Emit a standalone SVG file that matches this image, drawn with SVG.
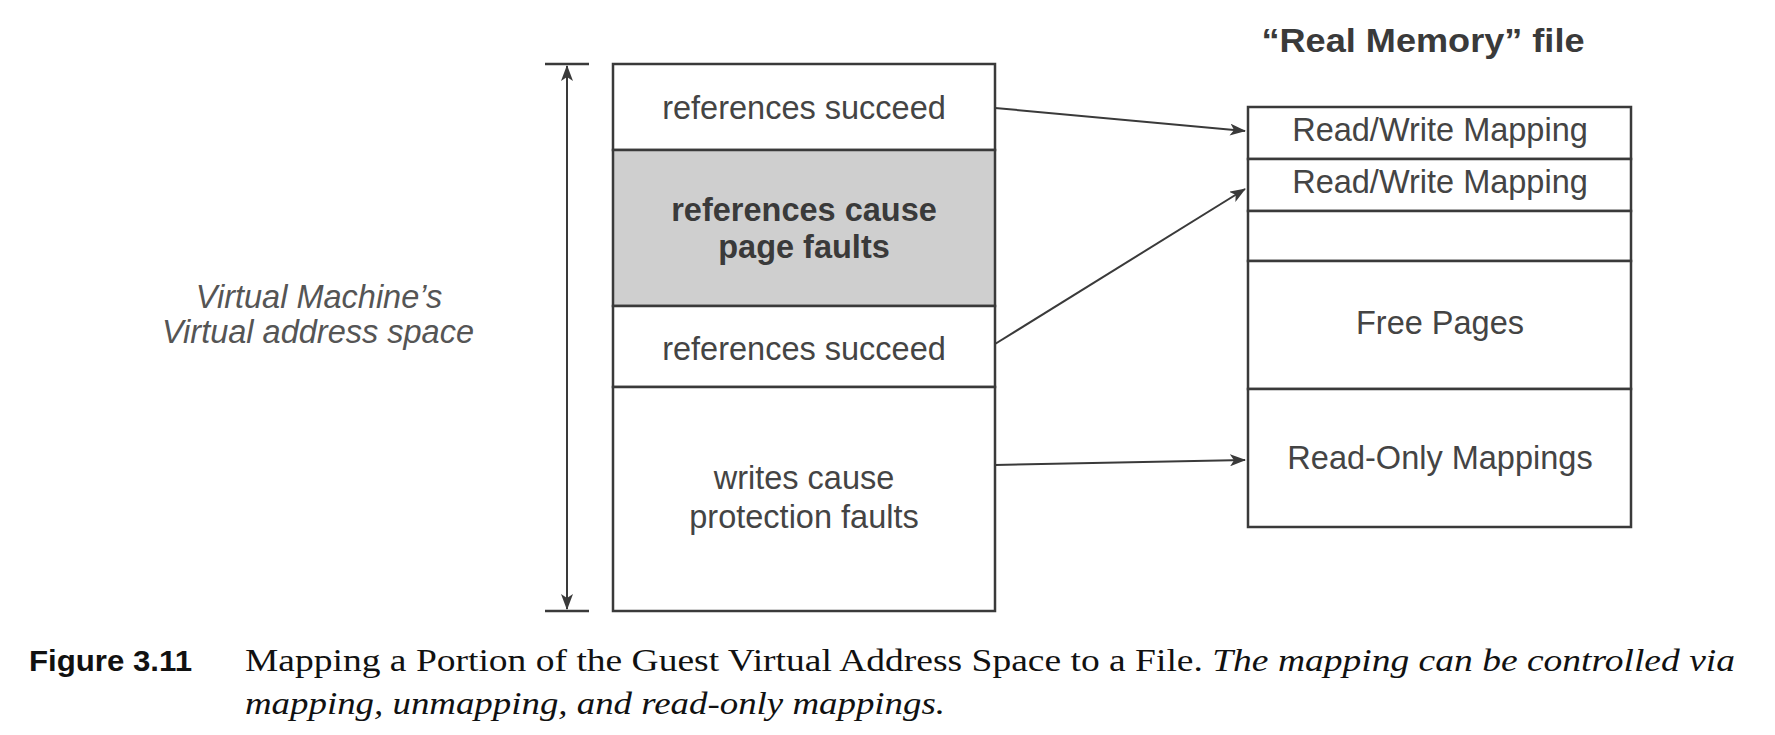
<svg xmlns="http://www.w3.org/2000/svg" width="1775" height="735" viewBox="0 0 1775 735">
<style>
.box{fill:#fff;stroke:#3a3a3a;stroke-width:2.5}
.gray{fill:#cfcfcf;stroke:#3a3a3a;stroke-width:2.5}
.t{font-family:"Liberation Sans",Arial,sans-serif;font-size:32.5px;fill:#444;text-anchor:middle}
.tb{font-family:"Liberation Sans",Arial,sans-serif;font-size:32.5px;font-weight:bold;fill:#3a3a3a;text-anchor:middle}
.ti{font-family:"Liberation Sans",Arial,sans-serif;font-size:32.5px;font-style:italic;fill:#555;text-anchor:middle}
.conn{stroke:#3a3a3a;stroke-width:2;fill:none}
.cap{font-family:"Liberation Serif","Times New Roman",serif;font-size:31px;fill:#111}
</style>
<defs>
<marker id="ah" markerWidth="16" markerHeight="12" refX="15" refY="6" orient="auto" markerUnits="userSpaceOnUse">
<path d="M0,0 L16,6 L0,12 L4,6 Z" fill="#3a3a3a"/>
</marker>
<marker id="ahs" markerWidth="16" markerHeight="12" refX="1" refY="6" orient="auto" markerUnits="userSpaceOnUse">
<path d="M16,0 L0,6 L16,12 L12,6 Z" fill="#3a3a3a"/>
</marker>
</defs>

<g id="dimension">
<line x1="545" y1="64" x2="589" y2="64" stroke="#3a3a3a" stroke-width="2.5"/>
<line x1="545" y1="611" x2="589" y2="611" stroke="#3a3a3a" stroke-width="2.5"/>
<line x1="567" y1="66" x2="567" y2="609" class="conn" marker-start="url(#ahs)" marker-end="url(#ah)"/>
</g>

<g id="vm-label">
<text class="ti" x="319" y="308">Virtual Machine’s</text>
<text class="ti" x="318" y="343">Virtual address space</text>
</g>

<g id="left-1">
<rect class="box" x="613" y="64" width="382" height="86"/>
<text class="t" x="804" y="119">references succeed</text>
</g>
<g id="left-2">
<rect class="gray" x="613" y="150" width="382" height="156"/>
<text class="tb" x="804" y="221">references cause</text>
<text class="tb" x="804" y="258">page faults</text>
</g>
<g id="left-3">
<rect class="box" x="613" y="306" width="382" height="81"/>
<text class="t" x="804" y="360">references succeed</text>
</g>
<g id="left-4">
<rect class="box" x="613" y="387" width="382" height="224"/>
<text class="t" x="804" y="489">writes cause</text>
<text class="t" x="804" y="528">protection faults</text>
</g>

<g id="title">
<text class="tb" x="1423" y="52" textLength="323" lengthAdjust="spacingAndGlyphs">“Real Memory” file</text>
</g>

<g id="right-1">
<rect class="box" x="1248" y="107" width="383" height="52"/>
<text class="t" x="1440" y="141">Read/Write Mapping</text>
</g>
<g id="right-2">
<rect class="box" x="1248" y="159" width="383" height="52"/>
<text class="t" x="1440" y="193">Read/Write Mapping</text>
</g>
<g id="right-3">
<rect class="box" x="1248" y="211" width="383" height="50"/>
</g>
<g id="right-4">
<rect class="box" x="1248" y="261" width="383" height="128"/>
<text class="t" x="1440" y="334">Free Pages</text>
</g>
<g id="right-5">
<rect class="box" x="1248" y="389" width="383" height="138"/>
<text class="t" x="1440" y="469">Read-Only Mappings</text>
</g>

<g id="connectors">
<line class="conn" x1="995" y1="108" x2="1245" y2="131" marker-end="url(#ah)"/>
<line class="conn" x1="995" y1="344" x2="1245" y2="189" marker-end="url(#ah)"/>
<line class="conn" x1="995" y1="465" x2="1245" y2="460" marker-end="url(#ah)"/>
</g>

<g id="caption">
<text x="29" y="671" font-family="'Liberation Sans Narrow','Liberation Sans',Arial,sans-serif" font-weight="bold" font-size="29" fill="#111" textLength="163" lengthAdjust="spacingAndGlyphs">Figure 3.11</text>
<text class="cap" x="245" y="671" textLength="1490" lengthAdjust="spacingAndGlyphs">Mapping a Portion of the Guest Virtual Address Space to a File. <tspan font-style="italic">The mapping can be controlled via</tspan></text>
<text class="cap" x="245" y="714" font-style="italic" textLength="700" lengthAdjust="spacingAndGlyphs">mapping, unmapping, and read-only mappings.</text>
</g>
</svg>
